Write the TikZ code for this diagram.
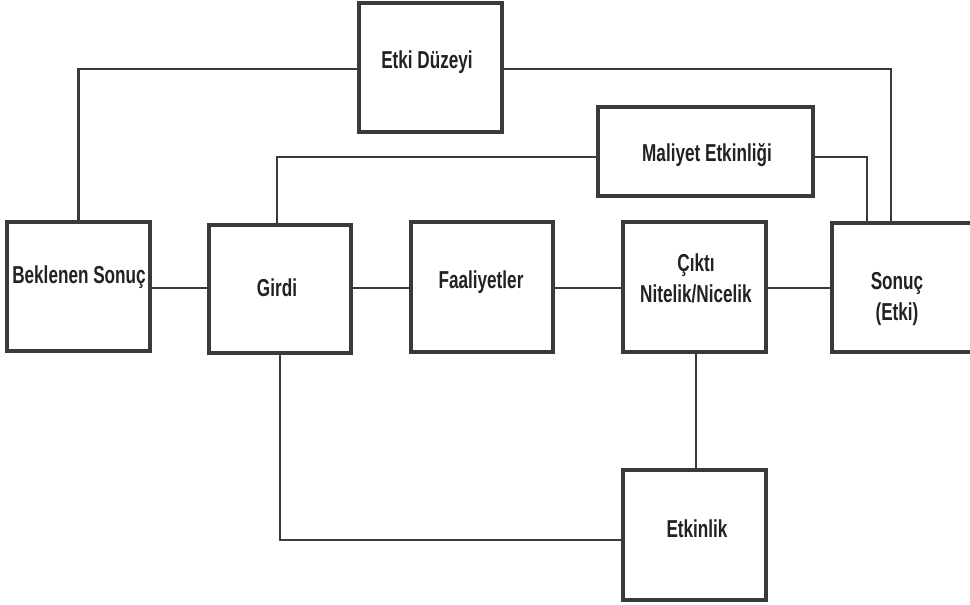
\documentclass[tikz,border=0pt]{standalone}
\usepackage{fontspec}
\setmainfont{Liberation Sans}[FakeStretch=0.70]
\definecolor{lc}{HTML}{3A3A3A}
\definecolor{tc}{HTML}{222222}
\begin{document}
\begin{tikzpicture}[x=1pt,y=-1pt,
  box/.style={draw=lc, line width=3.2pt, inner sep=0pt, outer sep=0pt, fill=white},
  wbox/.style={box, minimum width=143pt, minimum height=129pt},
  lbl/.style={font=\fontsize{24.5}{31}\selectfont\bfseries, text=tc, inner sep=0pt, anchor=base},
  conn/.style={draw=lc, line width=2.8pt}]
\useasboundingbox (0,0) rectangle (970,605);
% boxes
\node[wbox] (etki) at (430.5,67.5) {};
\node[box, minimum width=215pt, minimum height=89pt] (mal) at (705.5,151.5) {};
\node[wbox] (bekl) at (78.5,286.5) {};
\node[wbox, minimum width=142pt, minimum height=128pt] (girdi) at (280,289) {};
\node[wbox, minimum width=142pt, minimum height=130pt] (faal) at (482,287) {};
\node[wbox, minimum height=130pt] (cikti) at (694.5,287) {};
\node[wbox] (sonuc) at (903.5,287.5) {};
\node[wbox, minimum height=130pt] (etkin) at (694.5,535) {};
% labels
\node[lbl] (etkiT) at (427,68) {Etki Düzeyi};
\node[lbl] (malT) at (707,161) {Maliyet Etkinliği};
\node[lbl] (beklT) at (79,283) {Beklenen Sonuç};
\node[lbl] (girdiT) at (277,296) {Girdi};
\node[lbl] (faalT) at (481,288) {Faaliyetler};
\node[lbl, align=center, anchor=north] (ciktiT) at (696,254) {Çıktı\\Nitelik/Nicelik};
\node[lbl, align=center, anchor=north] (sonucT) at (897,272) {Sonuç\\(Etki)};
\node[lbl] (etkinT) at (697,537) {Etkinlik};
% helper coordinates
\coordinate (yE) at (0,69);
\coordinate (yM) at (0,157);
\coordinate (yR) at (0,288);
\coordinate (yK) at (0,540);
\coordinate (xS1) at (891,0);
\coordinate (xS2) at (867,0);
\coordinate (xG) at (277,0);
\coordinate (xC) at (696,0);
% connectors
\draw[conn] (etki.west |- yE) -| (bekl.north);
\draw[conn] (etki.east |- yE) -| (sonuc.north -| xS1);
\draw[conn] (mal.west |- yM) -| (girdi.north -| xG);
\draw[conn] (mal.east |- yM) -| (sonuc.north -| xS2);
\draw[conn] (bekl.east |- yR) -- (girdi.west |- yR);
\draw[conn] (girdi.east |- yR) -- (faal.west |- yR);
\draw[conn] (faal.east |- yR) -- (cikti.west |- yR);
\draw[conn] (cikti.east |- yR) -- (sonuc.west |- yR);
\draw[conn] (cikti.south -| xC) -- (etkin.north -| xC);
\draw[conn] (girdi.south) |- (etkin.west |- yK);
\end{tikzpicture}
\end{document}
